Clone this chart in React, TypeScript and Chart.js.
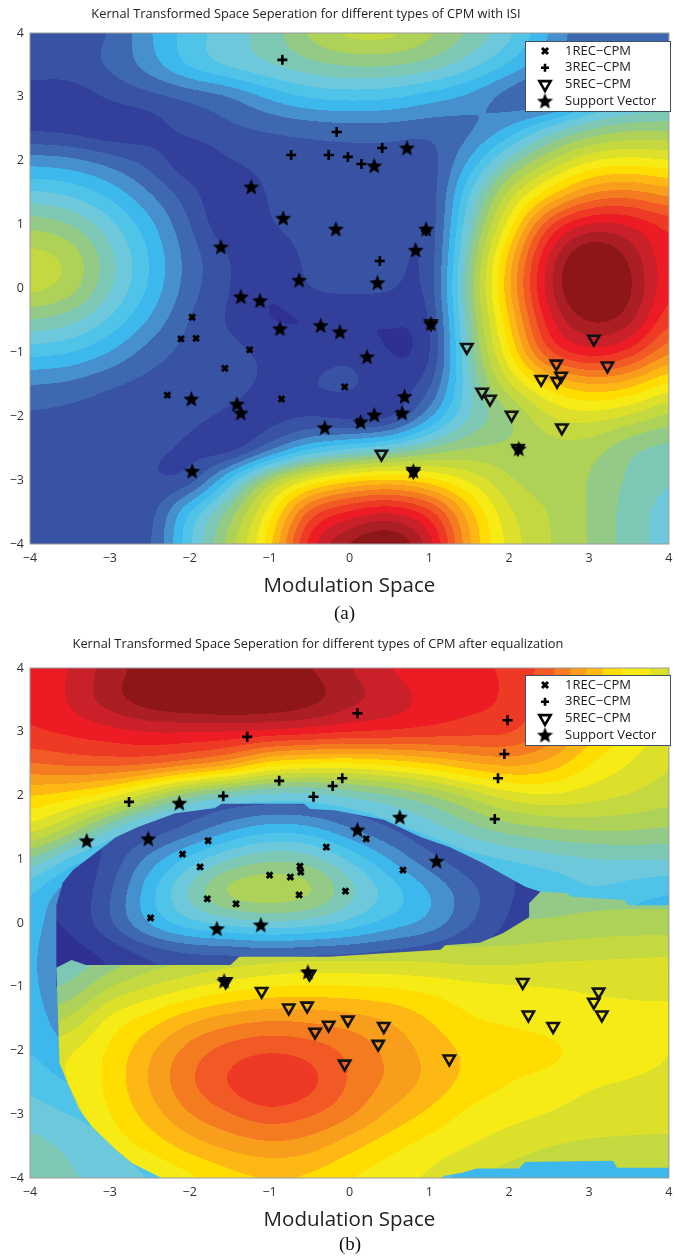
import React, { useEffect, useRef } from "react";
import { Chart, registerables } from "chart.js";

Chart.register(...registerables);

type Pt = [number, number];

const tickValues = [-4, -3, -2, -1, 0, 1, 2, 3, 4];
const legendLabels = ["1REC\u2212CPM", "3REC\u2212CPM", "5REC\u2212CPM", "Support Vector"];

const bandColors = [
  "#2e3192", "#33409b", "#3953a4", "#3e68b0", "#4590cd", "#3db8ec", "#50c4e8", "#6dc8dc",
  "#7cc8b4", "#93cb86", "#aed257", "#c4d83f", "#dde02a", "#f6eb14", "#ffdd00", "#fdb813",
  "#f99d1c", "#f47b20", "#f15a24", "#ee3a24", "#ed1c24", "#c9202a", "#ab1f24", "#8e1518",
];

// Surface levels, x = -4..4 and y = 4..-4 in half units
const surfaceA = [
  [3, 2.8, 2.8, 5, 6.5, 7.6, 8.4, 10.4, 11.6, 11.6, 10.4, 9, 7.5, 5, 3, 3, 4],
  [2.6, 2.6, 3.2, 4.6, 6.6, 7.6, 8.2, 8.8, 9.2, 9.2, 8.8, 7.6, 6, 4.2, 3, 3.5, 4.5],
  [1.4, 1.2, 2.2, 2.6, 3, 3.6, 5.2, 6.2, 6.4, 6.2, 5.4, 4.6, 3, 2, 4.8, 6, 6.5],
  [1.6, 1.4, 0.8, 1.3, 2.4, 2.8, 3, 3.2, 3.4, 3.4, 3.2, 3.5, 5, 7.5, 9, 9.8, 9.8],
  [4.6, 4.4, 3.6, 2.6, 0.9, 2, 2.4, 2.5, 2.5, 2.5, 2.2, 5, 8.5, 11, 13, 13.5, 13],
  [7.2, 6.8, 5.7, 4, 2.4, 0.8, 2.2, 2.5, 2.6, 2.6, 1.8, 7, 11.5, 14.5, 17, 17.5, 16.5],
  [9.8, 9.2, 7.4, 5.4, 3, 0.9, 2, 2.6, 2.6, 2.6, 1.6, 8, 13.5, 19.4, 21.5, 21.2, 19.8],
  [11.6, 11, 8.4, 6, 3.5, 2, 0.9, 2.4, 2.6, 2.6, 1.5, 9, 15.5, 21.6, 25, 23, 20],
  [11.6, 10.8, 8.2, 5.9, 3.4, 2, 0.8, 2.2, 2.4, 2.2, 1.6, 9.5, 16, 22, 25.5, 23.5, 20],
  [9, 8.4, 6.9, 4.9, 2.8, 1.8, 0.8, 0.8, 0.7, 1, 1.2, 9, 15, 21, 23.5, 22.8, 19],
  [6.4, 6.1, 5, 3.4, 2.6, 2.4, 1.8, 1.5, 1.8, 0.8, 1, 8.5, 14, 19.5, 21, 20, 17],
  [3.9, 3.7, 3, 2.6, 2.6, 2.4, 1.8, 2, 2.6, 1.2, 2.2, 8, 12, 14.5, 16, 15.5, 13.5],
  [2.8, 2.6, 2.4, 2.4, 2.4, 1.8, 1.4, 1.6, 0.9, 0.8, 4.5, 8, 9.5, 12, 12.5, 11.8, 10.5],
  [2.4, 2.4, 2.4, 2.2, 1.8, 0.5, 3, 5.5, 6.5, 7.5, 9, 10, 10.2, 10.5, 10.5, 9, 8.5],
  [2.4, 2.4, 2.4, 2, 1.7, 6.5, 11, 13.5, 15, 15.5, 14.5, 12.8, 11, 10.4, 10, 8.8, 8],
  [2.5, 2.5, 2.5, 2.2, 6.5, 9.5, 13.5, 19, 20.5, 21.4, 20, 15.5, 12, 11, 10, 8.5, 7.5],
  [2.4, 2.6, 2.6, 2.4, 7, 10.5, 14.5, 21, 23.5, 24.8, 22, 16, 12.5, 11, 10, 8.5, 7.5],
];

// Surface levels, outer part
const surfaceB = [
  [20, 21, 22.5, 23.5, 23.8, 23.8, 23.6, 23, 22, 21, 20, 20, 20, 18.5, 15.8, 13.5, 12.5],
  [20, 21.2, 22.8, 24, 24.5, 24.8, 24.5, 23.8, 22.5, 21.8, 20.8, 20.3, 20, 18, 15.5, 13.8, 12.8],
  [20, 20.3, 20.6, 21, 21, 21, 21, 20.8, 20.5, 20.3, 20, 19.6, 19.5, 18, 15.5, 13.8, 12.8],
  [18, 18.5, 18.7, 18.7, 18, 17, 14.5, 14, 13.8, 14.3, 15, 16, 16.5, 15.8, 14, 13, 12],
  [15, 14.5, 13.5, 11, 8.5, 7.3, 7, 7, 7.8, 8.5, 9.5, 11, 12.5, 13, 12.5, 12, 11.5],
  [13, 11, 8, 6, 5.5, 5.5, 5.5, 5.5, 5.8, 6.5, 7.5, 8.7, 9.6, 10, 10.3, 10.3, 10],
  [9, 6.5, 5, 5, 5, 5, 5, 5, 5, 5.5, 5.5, 6.5, 7, 7.5, 7.8, 8, 8],
  [6.2, 4, 3, 3, 3, 3, 3, 3, 3, 3, 3, 4, 5.5, 6, 7, 6.5, 6],
  [5.8, 3.5, 3, 3, 3, 3, 3, 3, 3, 3, 3, 4, 5, 6, 6, 5.5, 5],
  [5.5, 3.2, 3, 3, 3, 3, 3, 3, 3, 3, 3, 4, 5, 5, 5, 5, 5],
  [5.5, 3.5, 3, 3, 3, 3, 3, 3, 3, 3, 3, 3, 5, 5, 5, 5, 5],
  [5.8, 4, 4.5, 5, 5, 5, 5, 5, 5, 5, 5, 5, 5, 5, 5, 5, 5],
  [6, 5, 5, 5, 5, 5, 5, 5, 5, 5, 5, 5, 5, 5, 5, 5, 5],
  [6.8, 5.8, 6, 6, 6, 6, 6, 6, 6, 6, 6, 6, 5.5, 5.5, 5.5, 5.5, 5.5],
  [7.5, 7, 6.5, 6, 6, 6, 6, 6, 6, 6, 6, 6, 5.5, 5.5, 5.5, 5.5, 5.5],
  [8.5, 7.8, 7, 6.5, 6, 6, 6, 6, 6, 6, 6, 6, 5.5, 5.5, 5.5, 5.5, 5.5],
  [8.8, 8.2, 7.5, 7, 6.5, 6, 6, 6, 6, 6, 6, 6, 5.5, 5.5, 5.5, 5.5, 5.5],
];

// Surface levels inside the dark ring of panel (b)
const surfaceBRing = [
  [2, 2, 2, 2, 2, 2, 2, 2, 2, 2, 2, 2, 2, 2, 2, 2, 2],
  [2, 2, 2, 2, 2, 2, 2, 2, 2, 2, 2, 2, 2, 2, 2, 2, 2],
  [2, 2, 2, 2, 2, 2, 2, 2, 2, 2, 2, 2, 2, 2, 2, 2, 2],
  [2, 2, 2, 2, 2, 2, 2, 2, 2, 2, 2, 2, 2, 2, 2, 2, 2],
  [2, 2, 2, 2, 2, 2, 2, 2, 2, 2, 2, 2, 2, 2, 2, 2, 2],
  [2, 2, 2, 2, 3, 4.5, 5.5, 5.2, 3.8, 2.8, 2, 2, 2, 2, 2, 2, 2],
  [1, 1, 2.2, 4.5, 6.5, 8.2, 9, 8.8, 7, 5, 3.2, 2.2, 2, 2, 2, 2, 2],
  [1, 1, 2.8, 5.8, 8.6, 11, 11.4, 10.8, 8.6, 6.8, 5.2, 3.4, 2.2, 1, 1, 1, 1],
  [1, 1, 3, 5.5, 7, 7.6, 8, 7.8, 7, 5.8, 5, 3.2, 1.8, 1, 1, 1, 1],
  [1, 0.5, 1, 2, 2.5, 2.5, 2.8, 2.5, 2.5, 2.3, 2, 1.5, 1.5, 1, 1, 1, 1],
  [0.5, 0.5, 1, 1.5, 2, 2, 2, 2, 2, 2, 1.5, 1.5, 1, 1, 1, 1, 1],
  [1, 1, 1, 1, 1, 1, 1, 1, 1, 1, 1, 1, 1, 1, 1, 1, 1],
  [1, 1, 1, 1, 1, 1, 1, 1, 1, 1, 1, 1, 1, 1, 1, 1, 1],
  [1, 1, 1, 1, 1, 1, 1, 1, 1, 1, 1, 1, 1, 1, 1, 1, 1],
  [1, 1, 1, 1, 1, 1, 1, 1, 1, 1, 1, 1, 1, 1, 1, 1, 1],
  [1, 1, 1, 1, 1, 1, 1, 1, 1, 1, 1, 1, 1, 1, 1, 1, 1],
  [1, 1, 1, 1, 1, 1, 1, 1, 1, 1, 1, 1, 1, 1, 1, 1, 1],
];

// Surface levels, the lower region
const surfaceBLower = [
  [9.5, 9.5, 9.5, 9.5, 9.5, 9.5, 9.5, 9.5, 9.5, 9.5, 9.5, 9.5, 9.5, 9.5, 9.5, 9.5, 9.5],
  [9.5, 9.5, 9.5, 9.5, 9.5, 9.5, 9.5, 9.5, 9.5, 9.5, 9.5, 9.5, 9.5, 9.5, 9.5, 9.5, 9.5],
  [9.5, 9.5, 9.5, 9.5, 9.5, 9.5, 9.5, 9.5, 9.5, 9.5, 9.5, 9.5, 9.5, 9.5, 9.5, 9.5, 9.5],
  [9.5, 9.5, 9.5, 9.5, 9.5, 9.5, 9.5, 9.5, 9.5, 9.5, 9.5, 9.5, 9.5, 9.5, 9.5, 9.5, 9.5],
  [9.5, 9.5, 9.5, 9.5, 9.5, 9.5, 9.5, 9.5, 9.5, 9.5, 9.5, 9.5, 9.5, 9.5, 9.5, 9.5, 9.5],
  [9.5, 9.5, 9.5, 9.5, 9.5, 9.5, 9.5, 9.5, 9.5, 9.5, 9.5, 9.5, 9.5, 9.5, 9.5, 9.5, 9.5],
  [9.5, 9.5, 9.5, 9.5, 9.5, 9.5, 9.5, 9.5, 9.5, 9.5, 9.5, 9.5, 9.5, 9.5, 9.5, 9.5, 9.5],
  [8, 8, 8, 8, 8, 9, 9, 9, 9.5, 9.5, 9.5, 9.5, 9.5, 9.5, 9.5, 9.5, 9.5],
  [8, 8, 9, 9, 9, 9, 9, 9, 9.5, 9.5, 10, 10, 10, 10, 10.3, 10.4, 10.4],
  [8, 8, 9, 10, 10.5, 11, 11.3, 11.5, 11.5, 11.5, 11.5, 11.3, 11.4, 11.7, 11.8, 11.9, 12],
  [8.5, 9, 11, 12, 12.8, 13.5, 14, 14.2, 14.1, 14, 13.7, 13.4, 13.2, 13.1, 13, 13, 13],
  [10.5, 11, 13.5, 14.5, 15.8, 16.6, 17, 16.8, 16.5, 16, 15, 14, 13.8, 13.4, 13.1, 13, 13],
  [12.5, 13, 14.2, 15.9, 17.6, 18.6, 19, 18.7, 17.9, 16.8, 15.7, 14.8, 14.6, 14.5, 13.6, 13.2, 13],
  [12.5, 13, 14.3, 16.2, 18, 19.3, 20.6, 19.6, 17.9, 16.9, 15.8, 14.7, 14, 13.6, 13.1, 13, 12.9],
  [12, 12.5, 14, 15.5, 17.1, 18, 18.7, 18.2, 17.4, 15.8, 14.8, 13.7, 13.3, 13, 12.6, 12.4, 12.3],
  [11, 12, 13.4, 14.3, 15.5, 16.3, 16.8, 16.5, 15.3, 14.3, 13.5, 13, 12.5, 12, 11.8, 11.8, 11.8],
  [10, 11, 12, 12.8, 13.6, 14.5, 14.9, 14.7, 13.9, 13.3, 12.8, 12, 11.5, 11, 10.8, 10.8, 10.8],
];

const ringRegionB: Pt[] = [
  [-3.67, -1], [-3.67, 0.28], [-3.59, 0.63], [-3.46, 0.83], [-2.92, 1.35], [-2.64, 1.51], [-2.18, 1.72], [-1.69, 1.8],
  [-1.6, 1.87], [-0.57, 1.87], [-0.49, 1.79], [-0.19, 1.77], [0.43, 1.62], [0.89, 1.35], [1.26, 1.19], [1.67, 0.94],
  [2.2, 0.57], [2.39, 0.49], [2.39, -1],
];

const lowerRegionB: Pt[] = [
  [-3.67, -0.7], [-3.48, -0.58], [-3.3, -0.66], [-1.49, -0.66], [-1.38, -0.53], [-0.25, -0.53], [1.14, -0.42],
  [1.2, -0.35], [1.63, -0.31], [1.92, -0.16], [2.25, 0.09], [2.25, 0.31], [2.39, 0.49], [2.72, 0.47], [2.78, 0.41],
  [3.44, 0.36], [3.5, 0.28], [4, 0.28], [4, -3.84], [3.35, -3.84], [3.3, -3.73], [2.2, -3.75], [2.12, -3.85],
  [1.59, -3.85], [1.4, -3.92], [1.2, -3.96], [1.14, -4], [-2.35, -4], [-2.72, -3.77], [-2.92, -3.56], [-3.22, -3.2],
  [-3.38, -2.93], [-3.53, -2.51], [-3.63, -2.2],
];

const rec1A: Pt[] = [[-1.97, -0.45], [-2.11, -0.79], [-1.92, -0.78], [-1.25, -0.96], [-1.56, -1.25], [-2.28, -1.67], [-0.85, -1.73], [-0.06, -1.54], [0.63, -1.95], [0.12, -2.08]];
const rec3A: Pt[] = [[-0.84, 3.58], [-0.73, 2.09], [-0.26, 2.09], [-0.16, 2.45], [0.41, 2.2], [-0.02, 2.06], [0.15, 1.95], [0.38, 0.43], [0.96, 0.9]];
const rec5A: Pt[] = [[1.47, -0.92], [0.4, -2.59], [1.66, -1.62], [1.76, -1.73], [2.03, -1.98], [2.4, -1.42], [2.59, -1.18], [2.65, -1.37], [2.6, -1.45], [2.66, -2.18], [3.06, -0.79], [3.23, -1.21], [2.11, -2.5], [0.8, -2.86], [1.02, -0.55]];
const supportA: Pt[] = [[-1.23, 1.59], [-0.83, 1.1], [-1.61, 0.65], [-0.63, 0.13], [-1.36, -0.13], [-1.12, -0.19], [-0.17, 0.93], [0.72, 2.2], [0.31, 1.92], [0.96, 0.93], [0.83, 0.6], [0.35, 0.09], [-0.12, -0.68], [1.02, -0.55], [0.22, -1.07], [0.69, -1.69], [0.31, -1.98], [0.66, -1.95], [0.14, -2.09], [2.12, -2.51], [0.8, -2.86], [-0.87, -0.63], [-0.36, -0.58], [-1.98, -1.73], [-1.41, -1.81], [-1.36, -1.95], [-0.31, -2.18], [-1.97, -2.86]];

const rec1B: Pt[] = [[-1.77, 1.29], [-2.09, 1.08], [-1.87, 0.88], [-1, 0.75], [-0.74, 0.72], [-0.62, 0.89], [-0.61, 0.8], [-0.63, 0.44], [-1.78, 0.38], [-1.42, 0.3], [-2.49, 0.08], [-0.29, 1.19], [0.21, 1.32], [0.67, 0.83], [-0.05, 0.5]];
const rec3B: Pt[] = [[-2.76, 1.9], [-1.58, 1.99], [-0.88, 2.23], [-0.45, 1.98], [-0.21, 2.15], [-1.28, 2.92], [-0.09, 2.27], [0.1, 3.29], [1.98, 3.18], [1.94, 2.65], [1.86, 2.27], [1.82, 1.63]];
const rec5B: Pt[] = [[-1.1, -1.07], [-0.76, -1.33], [-0.53, -1.3], [-0.26, -1.6], [-0.43, -1.71], [-0.02, -1.52], [0.43, -1.62], [0.36, -1.9], [-0.06, -2.21], [1.25, -2.13], [2.17, -0.93], [2.24, -1.44], [2.55, -1.62], [3.12, -1.08], [3.06, -1.24], [3.16, -1.44], [-1.55, -0.92], [-0.5, -0.8]];
const supportB: Pt[] = [[-3.29, 1.29], [-2.52, 1.32], [-2.13, 1.88], [-1.66, -0.09], [-1.11, -0.03], [0.63, 1.66], [0.1, 1.46], [1.09, 0.97], [-1.57, -0.91], [-0.52, -0.77]];

function starImage(size: number) {
  const c = document.createElement("canvas");
  c.width = size;
  c.height = size;
  const g = c.getContext("2d")!;
  const R = size / 2;
  const r = R * 0.44;
  g.fillStyle = "#000";
  g.beginPath();
  for (let i = 0; i < 10; i++) {
    const a = -Math.PI / 2 + (i * Math.PI) / 5;
    const d = i % 2 === 0 ? R : r;
    g.lineTo(R + Math.cos(a) * d, R + 0.6 + Math.sin(a) * d);
  }
  g.closePath();
  g.fill();
  return c;
}

// Rendering a contour from a coarse table: a blend of two cubic kernels
const SMOOTH = 0.7;
function kernel(a: number, b: number, c: number, d: number, t: number) {
  const cr = b + 0.5 * t * (c - a + t * (2 * a - 5 * b + 4 * c - d + t * (3 * (b - c) + d - a)));
  const t2 = t * t;
  const t3 = t2 * t;
  const bs = (a * (1 - 3 * t + 3 * t2 - t3) + b * (4 - 6 * t2 + 3 * t3) + c * (1 + 3 * t + 3 * t2 - 3 * t3) + d * t3) / 6;
  return cr * (1 - SMOOTH) + bs * SMOOTH;
}

function sampleSurface(grid: number[][], x: number, y: number) {
  const n = grid.length - 1;
  const u = Math.max(0, Math.min(n - 1e-6, (x + 4) * 2));
  const v = Math.max(0, Math.min(n - 1e-6, (4 - y) * 2));
  const i = Math.floor(u);
  const j = Math.floor(v);
  const cl = (k: number) => Math.max(0, Math.min(n, k));
  const rows = [-1, 0, 1, 2].map((dj) => {
    const r = grid[cl(j + dj)];
    return kernel(r[cl(i - 1)], r[cl(i)], r[cl(i + 1)], r[cl(i + 2)], u - i);
  });
  return kernel(rows[0], rows[1], rows[2], rows[3], v - j);
}

function surfaceImage(chart: any, grid: number[][]) {
  const { left, top, right, bottom } = chart.chartArea;
  const w = Math.round(right - left);
  const h = Math.round(bottom - top);
  const c = document.createElement("canvas");
  c.width = w;
  c.height = h;
  const g = c.getContext("2d")!;
  const rgb = bandColors.map((s) => [1, 3, 5].map((k) => parseInt(s.slice(k, k + 2), 16)));
  const img = g.createImageData(w, h);
  const sx = chart.scales.x;
  const sy = chart.scales.y;
  for (let py = 0; py < h; py++) {
    const dy = sy.getValueForPixel(top + py + 0.5);
    for (let px = 0; px < w; px++) {
      const dx = sx.getValueForPixel(left + px + 0.5);
      const lv = Math.max(0, Math.min(bandColors.length - 1, Math.floor(sampleSurface(grid, dx, dy))));
      const o = (py * w + px) * 4;
      img.data[o] = rgb[lv][0];
      img.data[o + 1] = rgb[lv][1];
      img.data[o + 2] = rgb[lv][2];
      img.data[o + 3] = 255;
    }
  }
  g.putImageData(img, 0, 0);
  return c;
}

interface PanelProps {
  surface: number[][];
  regions?: { region: Pt[]; surface: number[][] }[];
  rec1: Pt[];
  rec3: Pt[];
  rec5: Pt[];
  support: Pt[];
  title: string;
  titleX: number;
  titleY: number;
  caption: string;
  captionX: number;
  captionY: number;
  top: number;
  height: number;
  legendTop: number;
}

function Panel(p: PanelProps) {
  const ref = useRef<HTMLCanvasElement>(null);
  useEffect(() => {
    const star = starImage(17);
    const toXY = (a: Pt[]) => a.map(([x, y]) => ({ x, y }));
    const pluginDecor = {
      id: "decor",
      beforeDatasetsDraw(chart: any) {
        const { ctx, chartArea: a, scales } = chart;
        ctx.save();
        ctx.filter = "blur(0.5px)";
        ctx.drawImage(surfaceImage(chart, p.surface), a.left, a.top);
        (p.regions || []).forEach(({ region, surface }) => {
          ctx.save();
          ctx.beginPath();
          region.forEach(([x, y]) => ctx.lineTo(scales.x.getPixelForValue(x), scales.y.getPixelForValue(y)));
          ctx.closePath();
          ctx.clip();
          ctx.drawImage(surfaceImage(chart, surface), a.left, a.top);
          ctx.restore();
        });
        ctx.restore();
      },
      afterDatasetsDraw(chart: any) {
        const { ctx, chartArea: a } = chart;
        ctx.save();
        ctx.strokeStyle = "#9a9a9a";
        ctx.lineWidth = 1;
        ctx.strokeRect(a.left, a.top, a.right - a.left, a.bottom - a.top);
        const lx = 525;
        const ly = p.legendTop;
        ctx.fillStyle = "#fff";
        ctx.strokeStyle = "#3f4f5f";
        ctx.fillRect(lx, ly, 145, 70);
        ctx.strokeRect(lx + 0.5, ly + 0.5, 145, 70);
        ctx.font = "13px 'Open Sans'";
        ctx.textBaseline = "middle";
        ctx.textAlign = "left";
        chart.data.datasets.forEach((ds: any, i: number) => {
          const cy = ly + 10 + i * 16.7;
          ctx.fillStyle = "#1a1a1a";
          ctx.fillText(ds.label, 565, cy);
          ctx.fillStyle = "#000";
          ctx.strokeStyle = "#000";
          ctx.lineWidth = ds.pointBorderWidth;
          if (ds.pointStyle === star) ctx.drawImage(star, 545 - 8.5, cy - 8.5);
          else {
            ctx.save();
            ctx.translate(545, cy);
            ctx.rotate(((ds.pointRotation || 0) * Math.PI) / 180);
            ctx.beginPath();
            if (ds.pointStyle === "crossRot") {
              ctx.moveTo(-3, -3); ctx.lineTo(3, 3); ctx.moveTo(3, -3); ctx.lineTo(-3, 3);
            } else if (ds.pointStyle === "cross") {
              ctx.moveTo(-4, 0); ctx.lineTo(4, 0); ctx.moveTo(0, -4); ctx.lineTo(0, 4);
            } else {
              const R = ds.pointRadius;
              ctx.moveTo(0, -R); ctx.lineTo(R * 0.866, R * 0.5); ctx.lineTo(-R * 0.866, R * 0.5); ctx.closePath();
            }
            ctx.stroke();
            ctx.restore();
          }
        });
        ctx.fillStyle = "#222";
        ctx.textAlign = "center";
        ctx.font = "12.8px 'Open Sans'";
        ctx.fillText(p.title, p.titleX, p.titleY);
        ctx.fillStyle = "#111";
        ctx.font = "19px 'Liberation Serif'";
        ctx.fillText(p.caption, p.captionX, p.captionY);
        ctx.restore();
      },
    };
    const chart = new Chart(ref.current!, {
      type: "scatter",
      data: {
        datasets: [
          { label: legendLabels[0], data: toXY(p.rec1), order: 3, pointStyle: "crossRot", pointRadius: 4, pointBorderWidth: 3, pointBorderColor: "#000", pointBackgroundColor: "#000" },
          { label: legendLabels[1], data: toXY(p.rec3), order: 2, pointStyle: "cross", pointRadius: 5, pointBorderWidth: 2.6, pointBorderColor: "#000", pointBackgroundColor: "#000" },
          { label: legendLabels[2], data: toXY(p.rec5), order: 1, pointStyle: "triangle", pointRotation: 180, pointRadius: 6.5, pointBorderWidth: 2.6, pointBorderColor: "#111", pointBackgroundColor: "rgba(0,0,0,0)" },
          { label: legendLabels[3], data: toXY(p.support), order: 0, pointStyle: star, pointRadius: 8 },
        ] as any,
      },
      plugins: [pluginDecor],
      options: {
        animation: false,
        responsive: false,
        layout: { padding: { left: 0, right: 2, top: 33, bottom: p.height - 33 - (p.top === 0 ? 511 : 510) - 54 } },
        plugins: { legend: { display: false }, tooltip: { enabled: false } },
        scales: {
          x: {
            type: "linear",
            min: -4,
            max: 4,
            afterBuildTicks: (s: any) => { s.ticks = tickValues.map((value) => ({ value })); },
            afterFit: (s: any) => { s.height = 54; s.paddingLeft = 0; s.paddingRight = 0; },
            ticks: { font: { family: "'Open Sans'", size: 12.5 }, color: "#333", padding: 7, maxRotation: 0, autoSkip: false, callback: (v: any) => String(v).replace("-", "\u2212") },
            grid: { display: false, drawTicks: false },
            border: { display: false },
            title: { display: true, text: "Modulation Space", font: { family: "'Open Sans'", size: 20.5 }, color: "#222", padding: { top: 0, bottom: 0 } },
          },
          y: {
            type: "linear",
            min: -4,
            max: 4,
            afterBuildTicks: (s: any) => { s.ticks = tickValues.map((value) => ({ value })); },
            afterFit: (s: any) => { s.width = 30; s.paddingTop = 0; s.paddingBottom = 0; },
            ticks: { font: { family: "'Open Sans'", size: 12.5 }, color: "#333", padding: 6, autoSkip: false, callback: (v: any) => String(v).replace("-", "\u2212") },
            grid: { display: false, drawTicks: false },
            border: { display: false },
          },
        },
      } as any,
    });
    return () => chart.destroy();
  }, []);
  return (
    <canvas
      ref={ref}
      width={678}
      height={p.height}
      style={{ position: "absolute", left: 0, top: p.top, width: 678, height: p.height, display: "block" }}
    />
  );
}

export default function App() {
  return (
    <div style={{ position: "absolute", left: 0, top: 0, width: 678, height: 1258, background: "#fff", overflow: "hidden" }}>
      <Panel
        surface={surfaceA}
        rec1={rec1A}
        rec3={rec3A}
        rec5={rec5A}
        support={supportA}
        title="Kernal Transformed Space Seperation for different types of CPM with ISI"
        titleX={306}
        titleY={14}
        caption="(a)"
        captionX={344.5}
        captionY={614}
        top={0}
        height={629}
        legendTop={41}
      />
      <Panel
        surface={surfaceB}
        regions={[
          { region: ringRegionB, surface: surfaceBRing },
          { region: lowerRegionB, surface: surfaceBLower },
        ]}
        rec1={rec1B}
        rec3={rec3B}
        rec5={rec5B}
        support={supportB}
        title="Kernal Transformed Space Seperation for different types of CPM after equalization"
        titleX={318}
        titleY={9}
        caption="(b)"
        captionX={350}
        captionY={610}
        top={635}
        height={623}
        legendTop={40}
      />
    </div>
  );
}
